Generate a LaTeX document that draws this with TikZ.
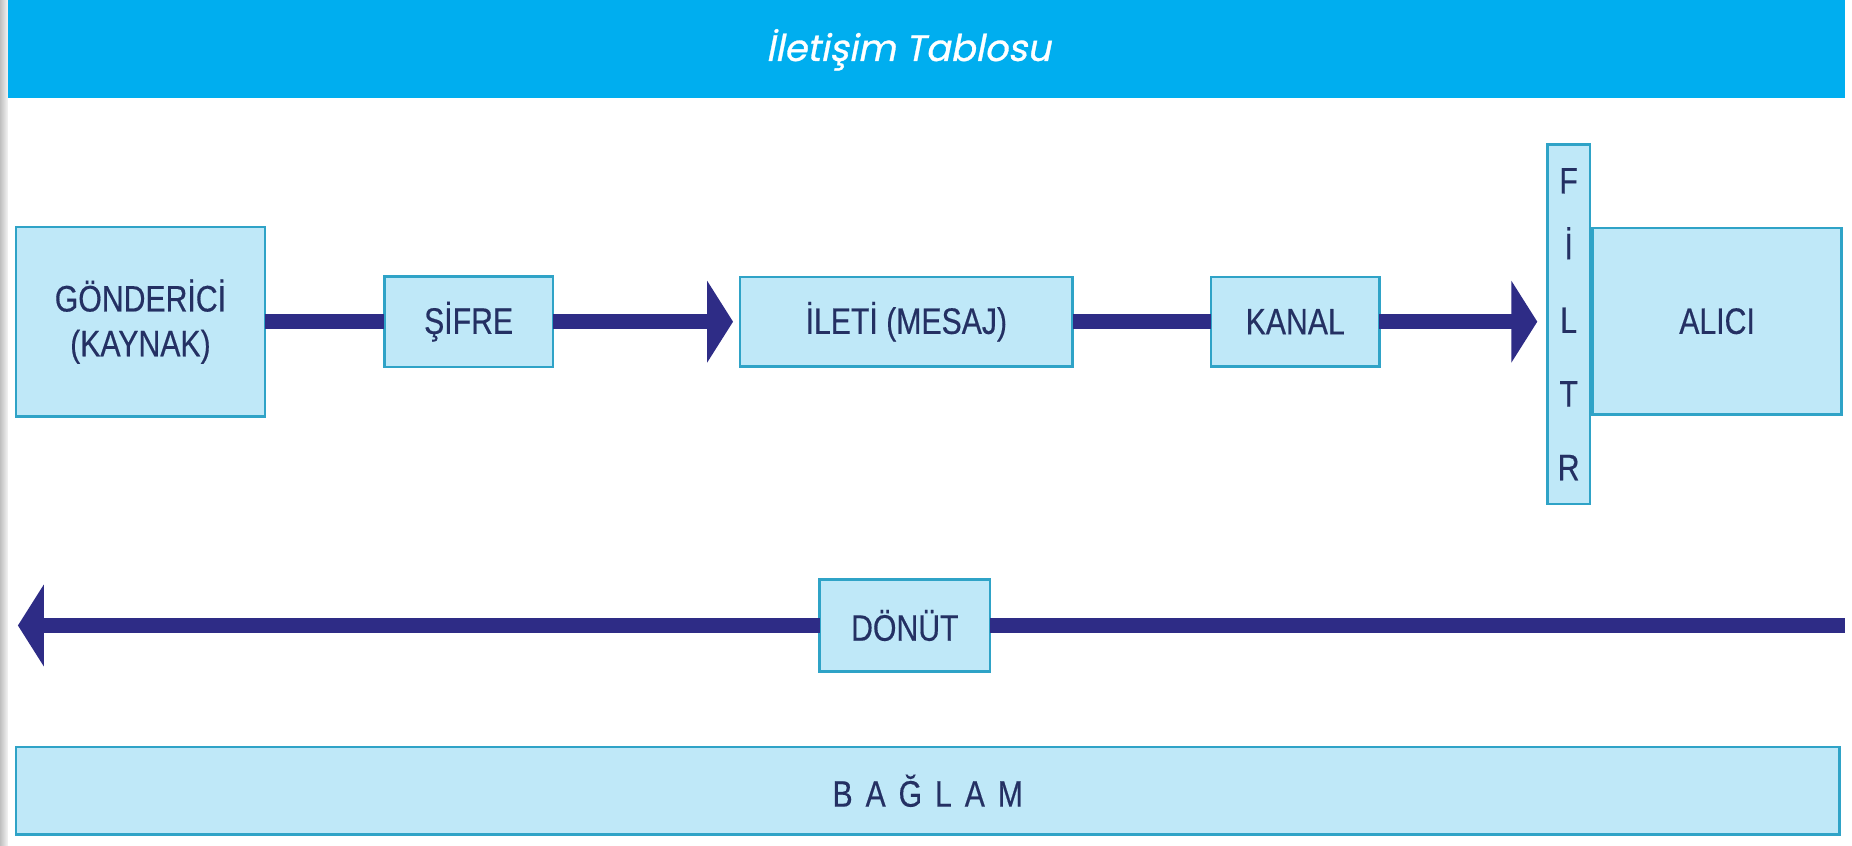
\documentclass[tikz,border=0pt]{standalone}
\usepackage{fontspec}
\setmainfont{Liberation Sans}[FakeStretch=0.82, FakeBold=0.4]
\newfontfamily\titlefont{Poppins}[FakeSlant=0.2, FakeBold=0.8]
\usepackage{tikz}
\usetikzlibrary{arrows.meta, positioning}
\definecolor{ilbaslik}{HTML}{00AEEF}
\definecolor{ilkutu}{HTML}{BFE8F8}
\definecolor{ilkenar}{HTML}{2FA3C7}
\definecolor{ilok}{HTML}{2E2C86}
\definecolor{ilyazi}{HTML}{243063}
\newcommand{\harf}{\hspace{0.35em}}

\begin{document}
\begin{tikzpicture}[
  x=1pt, y=-1pt,
  every node/.style={inner sep=0pt, outer sep=0pt},
  kutu/.style={draw=ilkenar, fill=ilkutu, line width=2.5pt, text=ilyazi, align=center, font=\fontsize{37}{45}\selectfont},
  hat/.style={draw=ilok, line width=15pt},
  ok/.style={hat, -{Triangle[length=26pt, width=81pt]}}
]
% zemin ve baslik
\fill[white] (0,0) rectangle (1852,849);
\fill[left color=black!25, right color=black!4] (0,0) rectangle (8,849);
\fill[ilbaslik] (8,0) rectangle (1852,98);
\node[text=white, font=\titlefont\fontsize{37}{42}\selectfont] (baslik) at (912,50) {İletişim Tablosu};

% ust sira
\node[kutu, minimum width=250pt, minimum height=190pt] (gonderici) at (141,323) {GÖNDERİCİ\\(KAYNAK)};
\node[kutu, minimum width=169pt, minimum height=91pt] (sifre) at (470.5,323) {ŞİFRE};
\node[kutu, minimum width=334pt, minimum height=90pt] (ileti) at (910,323) {İLETİ (MESAJ)};
\node[kutu, minimum width=169pt, minimum height=90pt] (kanal) at (1300.5,323) {KANAL};
\node[kutu, minimum width=43pt, minimum height=361pt, font=\fontsize{37}{74}\selectfont] (filtre) at (1575,325.5) {\raisebox{-8pt}{F}\\İ\\L\\T\\R};
\node[kutu, minimum width=250pt, minimum height=187pt] (alici) at (1724,322.5) {ALICI};

\draw[hat] (gonderici) -- (sifre);
\draw[ok, shorten >=7pt] (sifre) -- (ileti);
\draw[hat] (ileti) -- (kanal);
\draw[ok, shorten >=10pt] (kanal.east) -- (kanal.east -| filtre.west);

% donut
\node[kutu, minimum width=171pt, minimum height=92pt] (donut) at (908.5,628) {DÖNÜT};
\coordinate (sagUc) at (1852,628);
\coordinate (solUc) at (18,628);
\draw[hat] (sagUc) -- (donut);
\draw[ok] (donut) -- (solUc);

% baglam
\node[kutu, minimum width=1831pt, minimum height=88pt] (baglam) at (931.5,794) {B\harf A\harf Ğ\harf L\harf A\harf M};
\end{tikzpicture}
\end{document}
